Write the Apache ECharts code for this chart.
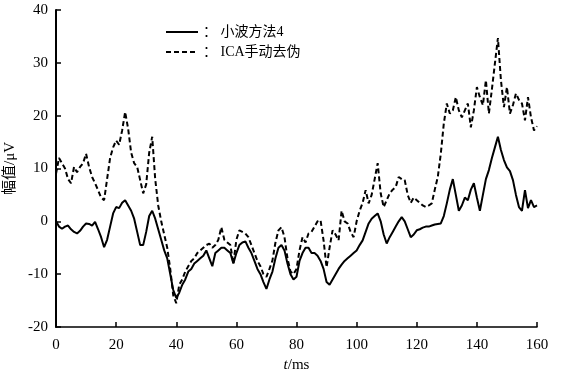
<!DOCTYPE html>
<html>
<head>
<meta charset="utf-8">
<script src="https://cdn.jsdelivr.net/npm/echarts@6/dist/echarts.min.js"></script>
<style>html,body{margin:0;padding:0;background:#fff;}#c{width:563px;height:377px;}</style>
</head>
<body>
<div id="c"></div>
<script>
const xTicks = [0, 20, 40, 60, 80, 100, 120, 140, 160];
const yTicks = [-20, -10, 0, 10, 20, 30, 40];
const seriesNames = ['小波方法4', 'ICA手动去伪'];
// time in ms, 0..160 step 1
const timeMs = Array.from({length: 161}, (_, i) => i);
const wavelet = [
  0, -1, -1.4, -1, -0.8, -1.5, -2, -2.3, -1.8, -1,
  -0.4, -0.5, -0.8, -0.1, -1.5, -3, -4.9, -3.5, -1, 1.5,
  2.7, 2.5, 3.5, 4, 3, 2, 0.5, -2, -4.5, -4.5,
  -2, 1, 2, 0.5, -1.5, -3.5, -5.5, -7, -10, -13,
  -14.5, -13.5, -12, -11, -9.5, -9, -8, -7.5, -7, -6.5,
  -5.5, -7, -8.5, -6, -5.5, -5, -5, -5.5, -6, -8,
  -6, -4.5, -4, -3.8, -5, -6, -7.5, -9, -10, -11.5,
  -12.8, -11, -9.5, -7, -5, -4.5, -5.5, -8, -10, -11,
  -10.5, -7.5, -6, -5, -5, -6, -6, -6.5, -7.5, -9,
  -11.5, -12, -11, -10, -9, -8.2, -7.5, -7, -6.5, -6,
  -5.5, -4.5, -3.6, -2, -0.4, 0.5, 1, 1.5, 0, -2.5,
  -4.2, -3, -2, -1, 0, 0.8, 0, -1.5, -3, -2.5,
  -1.7, -1.5, -1.2, -1, -1, -0.8, -0.6, -0.5, -0.4, 1,
  3.4, 6, 8, 5, 2, 3, 4.5, 4, 6, 7.2,
  4.5, 2, 5, 8, 9.7, 12, 14, 16, 13.5, 11.6,
  10.2, 9.5, 7.8, 5, 2.7, 2, 5.9, 2.5, 4, 2.7,
  3
];
const ica = [
  9, 12, 11, 10, 8, 7.2, 10.3, 9.3, 10.3, 11,
  12.8, 10.3, 8.4, 7.2, 5.9, 4.5, 4, 8, 12, 14,
  15.3, 14.5, 17.2, 20.7, 17.5, 13, 11, 10.3, 7.8, 5.3,
  7, 13, 16, 8, 3, 0, -2.5, -5, -9, -14,
  -15.5, -12, -11, -9.5, -8.5, -7.5, -7, -6, -5.5, -5,
  -4.5, -4.2, -5, -4.5, -3.5, -1.1, -3.5, -4, -4.5, -8,
  -3.5, -1.7, -2, -2.3, -3, -4.5, -6, -7.5, -8.5, -10,
  -10.5, -9, -7.4, -4, -1.7, -1.1, -3, -7, -9.5, -10,
  -9, -5.5, -3, -4, -2.3, -2, -1, 0, 0.2, -3.6,
  -8.7, -5, -1.7, -2.5, -3.6, 2, 0, -0.4, -2, -3,
  0, 2, 3.5, 5.9, 3.4, 5, 8, 11, 5.3, 2.7,
  4, 5.3, 6, 6.5, 8.4, 8, 7.8, 5, 3.5, 4.5,
  4, 3.5, 3, 2.7, 3, 3.4, 6, 8.4, 12.8, 18.5,
  22.3, 20.4, 21, 23.5, 21, 19.7, 21, 22.3, 17.8, 21,
  25.4, 23.5, 22, 26.7, 20.4, 25, 29.9, 34.7, 26.7, 21.6,
  25.4, 20.4, 22, 24.2, 23, 22.3, 19.1, 23.5, 19.7, 17.2,
  18
];

const serif = "'Liberation Serif', 'DejaVu Serif', serif";
const cjk = "'Liberation Serif', 'Noto Sans CJK SC', serif";
const chart = echarts.init(document.getElementById('c'), null, {renderer: 'canvas'});
chart.setOption({
  animation: false,
  backgroundColor: '#fff',
  color: ['#000', '#000'],
  grid: {left: 56, right: 26, top: 10, bottom: 50, containLabel: false, outerBoundsMode: 'none'},
  legend: {
    orient: 'vertical',
    left: 160,
    top: 20,
    itemWidth: 32,
    itemHeight: 10,
    itemGap: 6,
    itemStyle: {opacity: 0},
    formatter: n => '： ' + n,
    textStyle: {fontFamily: cjk, fontSize: 14, color: '#000'},
    data: seriesNames
  },
  xAxis: {
    type: 'value',
    min: xTicks[0], max: xTicks[xTicks.length - 1], interval: 20,
    name: '{i|t}/ms',
    nameLocation: 'middle',
    nameGap: 29,
    nameTextStyle: {fontFamily: serif, fontSize: 15, color: '#000',
      rich: {i: {fontStyle: 'italic', fontFamily: serif, fontSize: 15, color: '#000'}}},
    axisLine: {show: true, onZero: false, lineStyle: {color: '#000', width: 1.5}},
    axisTick: {show: true, inside: true, length: 5, lineStyle: {color: '#000', width: 1.5}},
    axisLabel: {fontFamily: serif, fontSize: 15, color: '#000', margin: 11},
    splitLine: {show: false}
  },
  yAxis: {
    type: 'value',
    min: yTicks[0], max: yTicks[yTicks.length - 1], interval: 10,
    name: '幅值/μV',
    nameLocation: 'middle',
    nameGap: 29,
    nameTextStyle: {fontFamily: cjk, fontSize: 15, color: '#000'},
    axisLine: {show: true, onZero: false, lineStyle: {color: '#000', width: 2}},
    axisTick: {show: true, inside: true, length: 5, lineStyle: {color: '#000', width: 1.5}},
    axisLabel: {fontFamily: serif, fontSize: 15, color: '#000', margin: 8},
    splitLine: {show: false}
  },
  series: [
    {
      name: seriesNames[0], type: 'line', symbol: 'none', z: 3,
      data: timeMs.map((t, i) => [t, wavelet[i]]),
      itemStyle: {color: '#000'},
      lineStyle: {color: '#000', width: 2}
    },
    {
      name: seriesNames[1], type: 'line', symbol: 'none', z: 2,
      data: timeMs.map((t, i) => [t, ica[i]]),
      itemStyle: {color: '#000'},
      lineStyle: {color: '#000', width: 2, type: [5, 3]}
    }
  ]
});
</script>
</body>
</html>
